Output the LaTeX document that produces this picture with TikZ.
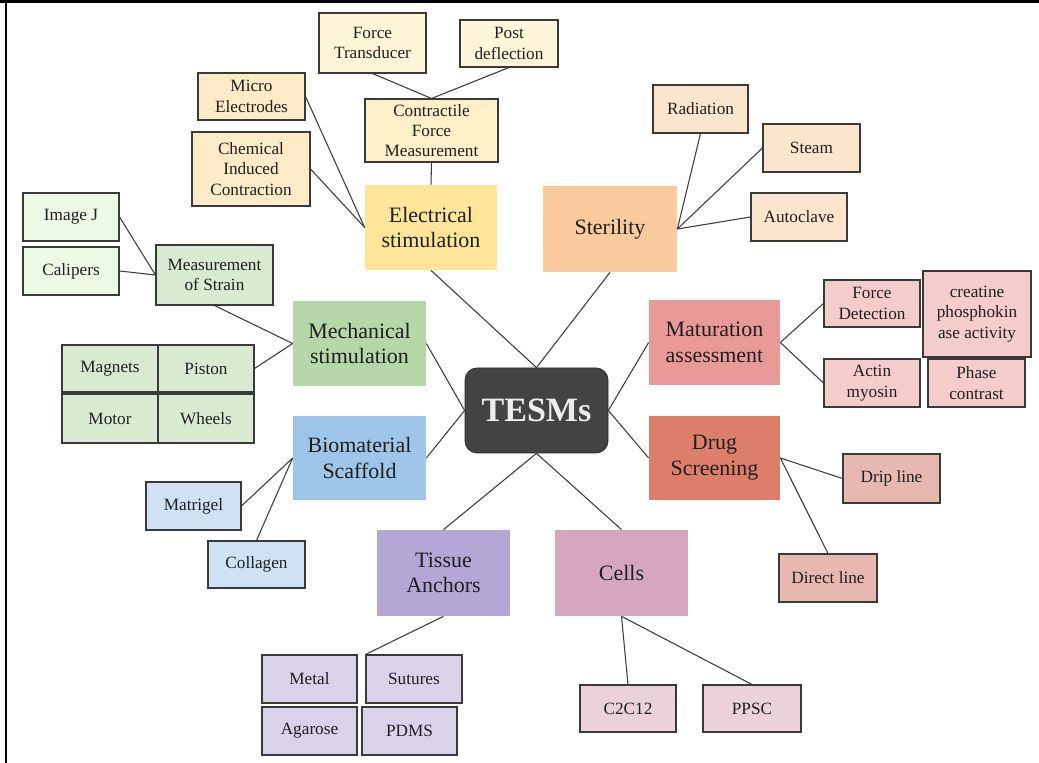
\documentclass[tikz,border=0pt]{standalone}
\usepackage{fontspec}
\setmainfont{LiberationSerif}[Extension=.ttf,UprightFont=*-Regular,BoldFont=*-Bold,ItalicFont=*-Italic,BoldItalicFont=*-BoldItalic]
\usepackage{xcolor}
\definecolor{elecC}{HTML}{FFE599}
\definecolor{sterC}{HTML}{F9CB9C}
\definecolor{mechC}{HTML}{B6D7A8}
\definecolor{bioC}{HTML}{9FC5E8}
\definecolor{tissC}{HTML}{B4A7D6}
\definecolor{cellC}{HTML}{D5A6BD}
\definecolor{matuC}{HTML}{EA9999}
\definecolor{drugC}{HTML}{DD7E6B}
\definecolor{tesmC}{HTML}{434343}
\definecolor{cfmC}{HTML}{FEF0C8}
\definecolor{ftC}{HTML}{FFF5D8}
\definecolor{elsubC}{HTML}{FDEAC6}
\definecolor{stsubC}{HTML}{FCE5CD}
\definecolor{lgreenC}{HTML}{EDFAE6}
\definecolor{mesubC}{HTML}{D9EAD3}
\definecolor{bisubC}{HTML}{CFE2F3}
\definecolor{tisubC}{HTML}{D9D2E9}
\definecolor{cesubC}{HTML}{EAD1DC}
\definecolor{masubC}{HTML}{F4CCCC}
\definecolor{drsubC}{HTML}{E6B8AF}
\definecolor{edgegray}{HTML}{3A3A3A}
\definecolor{textgray}{HTML}{1F1F1F}

\begin{document}
\begin{tikzpicture}[x=0.02cm,y=-0.02cm,
  boxsz/.style 2 args={minimum width=#1*0.02cm,minimum height=#2*0.02cm},
  main/.style={inner sep=0pt,align=center,text=textgray,font=\fontsize{12.5}{14.6}\selectfont},
  sub/.style={draw=edgegray,line width=0.6pt,inner sep=0pt,align=center,text=textgray,font=\fontsize{9.8}{11.6}\selectfont},
  link/.style={draw=edgegray,line width=0.6pt}]
  \useasboundingbox (0,0) rectangle (1039,763);
  % frame
  \draw[line width=1.6pt] (0,1.5) -- (1039,1.5);
  \draw[line width=1.2pt] (6,0) -- (6,763);
  % centre
  \node[fill=tesmC,draw=black!85,rounded corners=0.24cm,boxsz={143}{85},text=white!93!black,font=\fontsize{19.4}{22}\bfseries\selectfont] (tesm) at (536.5,410.5) {TESMs};
  % main topics
  \node[main,fill=elecC,boxsz={132}{85}] (elec) at (431,227.5) {Electrical\\stimulation};
  \node[main,fill=sterC,boxsz={134}{86}] (ster) at (610,229) {Sterility};
  \node[main,fill=mechC,boxsz={133}{85}] (mech) at (359.5,343.5) {Mechanical\\stimulation};
  \node[main,fill=bioC,boxsz={133}{84}] (bio) at (359.5,458) {Biomaterial\\Scaffold};
  \node[main,fill=matuC,boxsz={131}{85}] (matu) at (714.5,342.5) {Maturation\\assessment};
  \node[main,fill=drugC,boxsz={131}{84}] (drug) at (714.5,458) {Drug\\Screening};
  \node[main,fill=tissC,boxsz={133}{86}] (tiss) at (443.5,573) {Tissue\\Anchors};
  \node[main,fill=cellC,boxsz={133}{86}] (cell) at (621.5,573) {Cells};
  % electrical
  \node[sub,fill=ftC,boxsz={107}{60}] (ft) at (372.5,43) {Force\\Transducer};
  \node[sub,fill=ftC,boxsz={98}{47}] (pd) at (509,43.5) {Post\\deflection};
  \node[sub,fill=cfmC,boxsz={133}{63}] (cfm) at (431.5,130.5) {Contractile\\Force\\Measurement};
  \node[sub,fill=elsubC,boxsz={107}{47}] (me) at (251.5,96.5) {Micro\\Electrodes};
  \node[sub,fill=elsubC,boxsz={118}{74}] (chem) at (251,169) {Chemical\\Induced\\Contraction};
  % sterility
  \node[sub,fill=stsubC,boxsz={95}{48}] (rad) at (700.5,109) {Radiation};
  \node[sub,fill=stsubC,boxsz={97}{48}] (stm) at (811.5,148) {Steam};
  \node[sub,fill=stsubC,boxsz={96}{48}] (aut) at (799,217) {Autoclave};
  % mechanical
  \node[sub,fill=lgreenC,boxsz={96}{48}] (imgj) at (71,217) {Image J};
  \node[sub,fill=lgreenC,boxsz={96}{48}] (cal) at (71,271) {Calipers};
  \node[sub,fill=mesubC,boxsz={117}{60}] (mos) at (214.5,275) {Measurement\\of Strain};
  \node[sub,fill=mesubC,boxsz={96}{47}] (mag) at (110,368.5) {Magnets};
  \node[sub,fill=mesubC,boxsz={96}{47}] (pis) at (206,368.5) {Piston};
  \node[sub,fill=mesubC,boxsz={96}{49}] (mot) at (110,418.5) {Motor};
  \node[sub,fill=mesubC,boxsz={96}{49}] (whe) at (206,418.5) {Wheels};
  % biomaterial
  \node[sub,fill=bisubC,boxsz={95}{48}] (mat) at (193.5,506) {Matrigel};
  \node[sub,fill=bisubC,boxsz={97}{47}] (col) at (256.5,564.5) {Collagen};
  % maturation
  \node[sub,fill=masubC,boxsz={96}{47}] (fd) at (872,303.5) {Force\\Detection};
  \node[sub,fill=masubC,boxsz={108}{86}] (cre) at (977,314) {creatine\\phosphokin\\ase activity};
  \node[sub,fill=masubC,boxsz={96}{48}] (act) at (872,383) {Actin\\myosin};
  \node[sub,fill=masubC,boxsz={97}{48}] (pha) at (976.5,383) {Phase\\contrast};
  % drug screening
  \node[sub,fill=drsubC,boxsz={97}{49}] (drip) at (891.5,478.5) {Drip line};
  \node[sub,fill=drsubC,boxsz={98}{48}] (dir) at (828,578) {Direct line};
  % tissue anchors
  \node[sub,fill=tisubC,boxsz={95}{48}] (met) at (309.5,679) {Metal};
  \node[sub,fill=tisubC,boxsz={96}{48}] (sut) at (414,679) {Sutures};
  \node[sub,fill=tisubC,boxsz={95}{48}] (aga) at (309.5,731) {Agarose};
  \node[sub,fill=tisubC,boxsz={95}{48}] (pdm) at (409.5,731) {PDMS};
  % cells
  \node[sub,fill=cesubC,boxsz={96}{47}] (c2c) at (628,708.5) {C2C12};
  \node[sub,fill=cesubC,boxsz={98}{47}] (pps) at (752,708.5) {PPSC};
  % connectors to centre
  \draw[link] (elec.south) -- (tesm.north);
  \draw[link] (ster.south) -- (tesm.north);
  \draw[link] (mech.east) -- (tesm.west);
  \draw[link] (bio.east) -- (tesm.west);
  \draw[link] (matu.west) -- (tesm.east);
  \draw[link] (drug.west) -- (tesm.east);
  \draw[link] (tiss.north) -- (tesm.south);
  \draw[link] (cell.north) -- (tesm.south);
  % connectors to leaves
  \draw[link] (cfm.south) -- (elec.north);
  \draw[link] (ft.south) -- (cfm.north);
  \draw[link] (pd.south) -- (cfm.north);
  \draw[link] (me.east) -- (elec.west);
  \draw[link] (chem.east) -- (elec.west);
  \draw[link] (rad.south) -- (ster.east);
  \draw[link] (stm.west) -- (ster.east);
  \draw[link] (aut.west) -- (ster.east);
  \draw[link] (imgj.east) -- (mos.west);
  \draw[link] (cal.east) -- (mos.west);
  \draw[link] (mos.south) -- (mech.west);
  \draw[link] (pis.east) -- (mech.west);
  \draw[link] (mat.east) -- (bio.west);
  \draw[link] (col.north) -- (bio.west);
  \draw[link] (fd.west) -- (matu.east);
  \draw[link] (act.west) -- (matu.east);
  \draw[link] (drip.west) -- (drug.east);
  \draw[link] (dir.north) -- (drug.east);
  \draw[link] (tiss.south) -- (sut.north west);
  \draw[link] (cell.south) -- (c2c.north);
  \draw[link] (cell.south) -- (pps.north);
\end{tikzpicture}
\end{document}
